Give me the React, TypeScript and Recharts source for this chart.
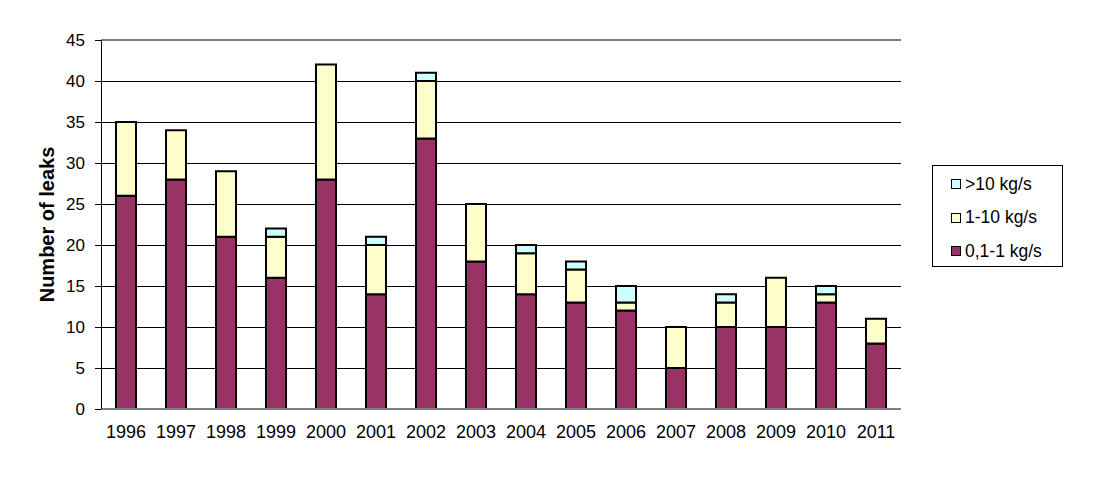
import React from 'react';
import { BarChart, Bar, XAxis, YAxis, CartesianGrid, ReferenceLine, Legend } from 'recharts';

const years = ['1996','1997','1998','1999','2000','2001','2002','2003','2004','2005','2006','2007','2008','2009','2010','2011'];
const small = [26, 28, 21, 16, 28, 14, 33, 18, 14, 13, 12, 5, 10, 10, 13, 8];
const medium = [9, 6, 8, 5, 14, 6, 7, 7, 5, 4, 1, 5, 3, 6, 1, 3];
const large = [0, 0, 0, 1, 0, 1, 1, 0, 1, 1, 2, 0, 1, 0, 1, 0];
const yTicks = [0, 5, 10, 15, 20, 25, 30, 35, 40, 45];
const boundaryTicks = [0,1,2,3,4,5,6,7,8,9,10,11,12,13,14,15,16];

const series = [
  { key: 'large', name: '>10 kg/s', color: '#CCFFFF' },
  { key: 'medium', name: '1-10 kg/s', color: '#FFFFCC' },
  { key: 'small', name: '0,1-1 kg/s', color: '#993366' },
];

const data = years.map((y, i) => ({ year: y, small: small[i], medium: medium[i], large: large[i] }));

const FONT = '"Liberation Sans", Arial, sans-serif';

const LegendBox = () => (
  <div style={{ width: 131, height: 102, border: '1px solid #000', boxSizing: 'border-box', background: '#fff', fontFamily: FONT, fontSize: 17.5, color: '#000', position: 'relative' }}>
    {series.map((s, i) => (
      <div key={s.key} style={{ position: 'absolute', left: 18, top: 8 + i * 33.5, height: 20, display: 'flex', alignItems: 'center' }}>
        <span style={{ display: 'inline-block', width: 8, height: 8, background: s.color, border: '1px solid #000', marginRight: 4 }} />
        <span>{s.name}</span>
      </div>
    ))}
  </div>
);

export default function App() {
  return (
    <BarChart width={1092} height={461} data={data} margin={{ top: 32, right: 199, left: 0, bottom: 30 }} barCategoryGap="30%">
      <CartesianGrid vertical={false} stroke="#000" strokeWidth={1} shapeRendering="crispEdges" />
      <XAxis xAxisId="b" type="number" domain={[0, 16]} ticks={boundaryTicks} tick={false} tickSize={6} tickLine={{ stroke: '#000', shapeRendering: 'crispEdges' }} axisLine={false} height={0} allowDataOverflow />
      <XAxis xAxisId="c" dataKey="year" tickLine={false} tickSize={8} tickMargin={8} axisLine={{ stroke: '#808080', strokeWidth: 2 }} height={30} tick={{ fill: '#000', fontSize: 18, fontFamily: FONT }} interval={0} />
      <YAxis domain={[0, 45]} ticks={yTicks} width={93} tickSize={6} tickMargin={10} tickLine={{ stroke: '#000', shapeRendering: 'crispEdges' }} axisLine={{ stroke: '#000', shapeRendering: 'crispEdges' }} tick={{ fill: '#000', fontSize: 17, fontFamily: FONT }} interval={0}
        label={{ value: 'Number of leaks', angle: -90, position: 'center', dx: -8, style: { fontSize: 20, fontWeight: 'bold', fontFamily: FONT, fill: '#000' } }} />
      <Bar xAxisId="c" dataKey="small" name="0,1-1 kg/s" stackId="a" fill="#993366" stroke="#000" strokeWidth={2} isAnimationActive={false} />
      <Bar xAxisId="c" dataKey="medium" name="1-10 kg/s" stackId="a" fill="#FFFFCC" stroke="#000" strokeWidth={2} isAnimationActive={false} />
      <Bar xAxisId="c" dataKey="large" name=">10 kg/s" stackId="a" fill="#CCFFFF" stroke="#000" strokeWidth={2} isAnimationActive={false} />
      <ReferenceLine xAxisId="c" y={45} stroke="#808080" strokeWidth={2} />
      <ReferenceLine xAxisId="b" x={16} stroke="#808080" strokeWidth={2} />
      <Legend layout="horizontal" verticalAlign="middle" align="center" content={<LegendBox />} wrapperStyle={{ position: 'absolute', left: 924, top: 157, width: 131, height: 102 }} />
    </BarChart>
  );
}
